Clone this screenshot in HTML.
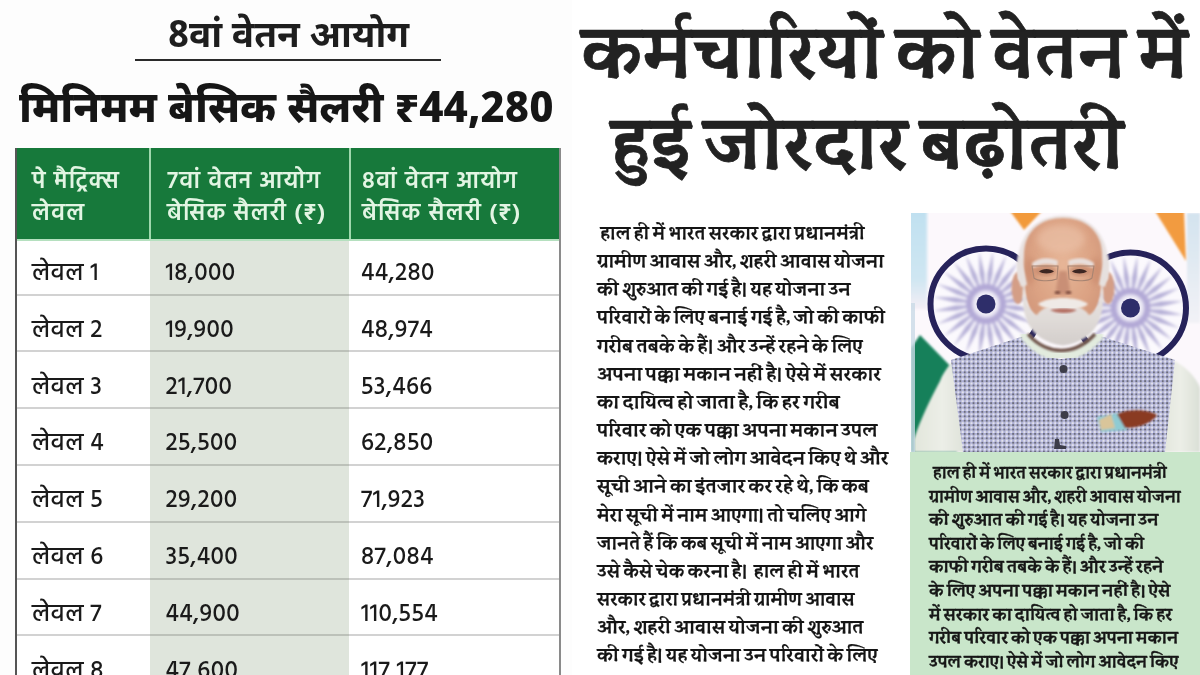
<!DOCTYPE html>
<html lang="hi">
<head>
<meta charset="utf-8">
<title>8वां वेतन आयोग</title>
<style>
*{margin:0;padding:0;box-sizing:border-box}
html,body{width:1200px;height:675px;overflow:hidden;background:#fff}
body{position:relative;font-family:"Noto Sans Devanagari","Liberation Sans","Noto Sans CJK SC",sans-serif;color:#1c1c1c}
.abs{position:absolute;white-space:nowrap;line-height:1}
#left{position:absolute;left:0;top:0;width:572px;height:675px;background:#fdfdfd}
#t1{left:168px;top:19.5px;font-family:"Noto Sans Devanagari","Liberation Sans",sans-serif;font-weight:700;font-size:37px;color:#1e1e1e}
#rule{left:135px;top:58.5px;width:306px;height:2px;background:#2a2a2a}
#t2{left:19px;top:90.5px;font-family:"Noto Sans Devanagari","Liberation Sans",sans-serif;font-weight:800;font-size:42.5px;color:#161616}
#tbl{position:absolute;left:15px;top:148px;width:546px;height:540px;border-left:2px solid #555;border-right:2px solid #8a8a8a;background:#fff}
#hdr{position:absolute;left:0;top:0;width:100%;height:91px;background:#17793b}
.vsep{position:absolute;top:0;width:2px;height:91px;background:#9fd8ad}
.mid{position:absolute;left:133px;top:91px;width:199px;height:460px;background:#dfe5dc}
.hline{position:absolute;left:0;width:100%;height:2px;background:#d2d2d2}
.ht{position:absolute;white-space:nowrap;font-family:"Hind","Noto Sans Devanagari","Liberation Sans",sans-serif;font-weight:600;font-size:23.7px;letter-spacing:1.25px;line-height:1;color:#e2f5e3}
.cell{position:absolute;white-space:nowrap;font-family:"Hind","Noto Sans Devanagari","Liberation Sans",sans-serif;font-weight:500;font-size:24.5px;letter-spacing:0.4px;line-height:1;color:#1a1a1a}
.h1{font-family:"Sura","Hind","Liberation Sans",sans-serif;font-weight:700;font-size:71px;color:#222;-webkit-text-stroke:0.7px #222}
.bl{position:absolute;transform-origin:0 0;left:597px;white-space:pre;font-family:"Sura","Hind","Liberation Sans",sans-serif;font-weight:700;font-size:18.6px;line-height:1;color:#141414;-webkit-text-stroke:0.2px #141414}
#photo{position:absolute;left:911px;top:213px;width:289px;height:239px;overflow:hidden}
#gbox{position:absolute;left:910px;top:452px;width:290px;height:223px;background:#c9e6ca}
.gl{position:absolute;transform-origin:0 0;white-space:pre;font-family:"Sura","Hind","Liberation Sans",sans-serif;font-weight:700;font-size:16.2px;line-height:1;color:#161616;-webkit-text-stroke:0.35px #161616}

</style>
</head>
<body>
<div id="left">
<div id="t1" class="abs">8वां वेतन आयोग</div>
<div id="rule" class="abs"></div>
<div id="t2" class="abs">मिनिमम बेसिक सैलरी ₹44,280</div>
<div id="tbl">
<div id="hdr">
<div class="vsep" style="left:132px"></div>
<div class="vsep" style="left:332px"></div>
<div class="ht" style="left:15px;top:23.2px">पे मैट्रिक्स</div>
<div class="ht" style="left:15px;top:55.3px">लेवल</div>
<div class="ht" style="left:150px;top:23.2px">7वां वेतन आयोग</div>
<div class="ht" style="left:150px;top:55.3px">बेसिक सैलरी (₹)</div>
<div class="ht" style="left:345px;top:23.2px">8वां वेतन आयोग</div>
<div class="ht" style="left:345px;top:55.3px">बेसिक सैलरी (₹)</div>
</div>
<div class="mid"></div>
<div class="hline" style="top:91px;height:2px;background:#b5e0bf"></div>
<div class="hline" style="top:145.6px"></div>
<div class="hline" style="top:145.6px;left:133px;width:199px;background:#bcc1b9"></div>
<div class="hline" style="top:202.4px"></div>
<div class="hline" style="top:202.4px;left:133px;width:199px;background:#bcc1b9"></div>
<div class="hline" style="top:259.2px"></div>
<div class="hline" style="top:259.2px;left:133px;width:199px;background:#bcc1b9"></div>
<div class="hline" style="top:316.0px"></div>
<div class="hline" style="top:316.0px;left:133px;width:199px;background:#bcc1b9"></div>
<div class="hline" style="top:372.8px"></div>
<div class="hline" style="top:372.8px;left:133px;width:199px;background:#bcc1b9"></div>
<div class="hline" style="top:429.6px"></div>
<div class="hline" style="top:429.6px;left:133px;width:199px;background:#bcc1b9"></div>
<div class="hline" style="top:486.4px"></div>
<div class="hline" style="top:486.4px;left:133px;width:199px;background:#bcc1b9"></div>
<div class="cell" style="left:15px;top:114.0px">लेवल 1</div>
<div class="cell" style="left:148.5px;top:114.0px">18,000</div>
<div class="cell" style="left:344px;top:114.0px">44,280</div>
<div class="cell" style="left:15px;top:170.8px">लेवल 2</div>
<div class="cell" style="left:148.5px;top:170.8px">19,900</div>
<div class="cell" style="left:344px;top:170.8px">48,974</div>
<div class="cell" style="left:15px;top:227.6px">लेवल 3</div>
<div class="cell" style="left:148.5px;top:227.6px">21,700</div>
<div class="cell" style="left:344px;top:227.6px">53,466</div>
<div class="cell" style="left:15px;top:284.4px">लेवल 4</div>
<div class="cell" style="left:148.5px;top:284.4px">25,500</div>
<div class="cell" style="left:344px;top:284.4px">62,850</div>
<div class="cell" style="left:15px;top:341.2px">लेवल 5</div>
<div class="cell" style="left:148.5px;top:341.2px">29,200</div>
<div class="cell" style="left:344px;top:341.2px">71,923</div>
<div class="cell" style="left:15px;top:398.0px">लेवल 6</div>
<div class="cell" style="left:148.5px;top:398.0px">35,400</div>
<div class="cell" style="left:344px;top:398.0px">87,084</div>
<div class="cell" style="left:15px;top:454.8px">लेवल 7</div>
<div class="cell" style="left:148.5px;top:454.8px">44,900</div>
<div class="cell" style="left:344px;top:454.8px">110,554</div>
<div class="cell" style="left:15px;top:511.6px">लेवल 8</div>
<div class="cell" style="left:148.5px;top:511.6px">47,600</div>
<div class="cell" style="left:344px;top:511.6px">117,177</div>
</div>
</div>
<div id="h1a" class="abs h1" style="left:581px;top:15px">कर्मचारियों को वेतन में</div>
<div id="h1b" class="abs h1" style="left:610.5px;top:105.5px;transform:scaleX(1.012);transform-origin:0 0">हुई जोरदार बढ़ोतरी</div>
<div class="bl" style="top:224.00px;transform:scaleX(0.9710)"> हाल ही में भारत सरकार द्वारा प्रधानमंत्री</div>
<div class="bl" style="top:252.15px;transform:scaleX(0.9829)">ग्रामीण आवास और, शहरी आवास योजना</div>
<div class="bl" style="top:280.30px;transform:scaleX(0.9883)">की शुरुआत की गई है। यह योजना उन</div>
<div class="bl" style="top:308.45px;transform:scaleX(0.9863)">परिवारों के लिए बनाई गई है, जो की काफी</div>
<div class="bl" style="top:336.60px;transform:scaleX(0.9948)">गरीब तबके के हैं। और उन्हें रहने के लिए</div>
<div class="bl" style="top:364.75px;transform:scaleX(1.0071)">अपना पक्का मकान नहीं है। ऐसे में सरकार</div>
<div class="bl" style="top:392.90px;transform:scaleX(1.0104)">का दायित्व हो जाता है, कि हर गरीब</div>
<div class="bl" style="top:421.05px;transform:scaleX(1.0000)">परिवार को एक पक्का अपना मकान उपल</div>
<div class="bl" style="top:449.20px;transform:scaleX(0.9966)">कराए। ऐसे में जो लोग आवेदन किए थे और</div>
<div class="bl" style="top:477.35px;transform:scaleX(0.9963)">सूची आने का इंतजार कर रहे थे, कि कब</div>
<div class="bl" style="top:505.50px;transform:scaleX(0.9736)">मेरा सूची में नाम आएगा। तो चलिए आगे</div>
<div class="bl" style="top:533.65px;transform:scaleX(0.9685)">जानते हैं कि कब सूची में नाम आएगा और</div>
<div class="bl" style="top:561.80px;transform:scaleX(0.9741)">उसे कैसे चेक करना है।  हाल ही में भारत</div>
<div class="bl" style="top:589.95px;transform:scaleX(0.9580)">सरकार द्वारा प्रधानमंत्री ग्रामीण आवास</div>
<div class="bl" style="top:618.10px;transform:scaleX(0.9918)">और, शहरी आवास योजना की शुरुआत</div>
<div class="bl" style="top:646.25px;transform:scaleX(0.9880)">की गई है। यह योजना उन परिवारों के लिए</div>
<svg id="photo" width="289" height="239" viewBox="0 0 289 239"><defs>
<filter id="b05" x="-10%" y="-10%" width="120%" height="120%"><feGaussianBlur stdDeviation="0.6"/></filter>
<filter id="b1" x="-10%" y="-10%" width="120%" height="120%"><feGaussianBlur stdDeviation="0.9"/></filter>
<filter id="b2" x="-10%" y="-10%" width="120%" height="120%"><feGaussianBlur stdDeviation="1.6"/></filter>
<filter id="b3" x="-20%" y="-20%" width="140%" height="140%"><feGaussianBlur stdDeviation="3"/></filter>
<linearGradient id="gblue" x1="0" y1="0" x2="0" y2="1"><stop offset="0" stop-color="#bfe0f0"/><stop offset="0.7" stop-color="#cfe6f2"/><stop offset="1" stop-color="#f4eef5"/></linearGradient>
<linearGradient id="gblue2" x1="0" y1="0" x2="0" y2="1"><stop offset="0" stop-color="#d3e3ef"/><stop offset="1" stop-color="#f2f2f6"/></linearGradient>
<radialGradient id="gface" cx="0.5" cy="0.4" r="0.65"><stop offset="0" stop-color="#e6b597"/><stop offset="0.6" stop-color="#dca384"/><stop offset="1" stop-color="#cf9478"/></radialGradient>
<pattern id="ging" width="4.4" height="4.4" patternUnits="userSpaceOnUse">
<rect width="4.4" height="4.4" fill="#e2e2ec"/>
<rect x="0" y="0" width="2.2" height="2.2" fill="#6c6d7c"/>
<rect x="2.2" y="0" width="2.2" height="2.2" fill="#aeb0d8"/>
<rect x="0" y="2.2" width="2.2" height="2.2" fill="#aeb0d8"/>
</pattern>
<linearGradient id="gsleeve" x1="0" y1="0" x2="1" y2="0"><stop offset="0" stop-color="#e2e6dc"/><stop offset="0.5" stop-color="#eceee7"/><stop offset="1" stop-color="#dadfd6"/></linearGradient>
</defs><rect width="289" height="239" fill="#fcf8fc"/><rect x="-4" y="-4" width="20" height="100" fill="url(#gblue)" filter="url(#b2)"/><rect x="276" y="0" width="13" height="110" fill="url(#gblue2)" filter="url(#b1)"/><g filter="url(#b1)"><polygon points="99,-2 131,-2 113,17" fill="#f29a3a"/><polygon points="244,-2 273,-2 275,48" fill="#f29b3f"/></g><circle cx="75" cy="91" r="56" fill="#fbf9fd"/><g filter="url(#b2)"><g fill="#b4aed6"><polygon points="82.9,92.0 104.9,97.4 127.5,97.9 105.6,92.6"/><polygon points="82.4,94.1 102.3,104.9 124.0,111.3 104.1,100.5"/><polygon points="81.3,95.9 97.7,111.5 117.0,123.3 100.7,107.7"/><polygon points="79.9,97.3 91.7,116.7 107.3,133.0 95.5,113.7"/><polygon points="78.1,98.4 84.5,120.1 95.3,140.0 88.9,118.3"/><polygon points="76.0,98.9 76.6,121.6 81.9,143.5 81.4,120.9"/><polygon points="74.0,98.9 68.6,120.9 68.1,143.5 73.4,121.6"/><polygon points="71.9,98.4 61.1,118.3 54.7,140.0 65.5,120.1"/><polygon points="70.1,97.3 54.5,113.7 42.7,133.0 58.3,116.7"/><polygon points="68.7,95.9 49.3,107.7 33.0,123.3 52.3,111.5"/><polygon points="67.6,94.1 45.9,100.5 26.0,111.3 47.7,104.9"/><polygon points="67.1,92.0 44.4,92.6 22.5,97.9 45.1,97.4"/><polygon points="67.1,90.0 45.1,84.6 22.5,84.1 44.4,89.4"/><polygon points="67.6,87.9 47.7,77.1 26.0,70.7 45.9,81.5"/><polygon points="68.7,86.1 52.3,70.5 33.0,58.7 49.3,74.3"/><polygon points="70.1,84.7 58.3,65.3 42.7,49.0 54.5,68.3"/><polygon points="71.9,83.6 65.5,61.9 54.7,42.0 61.1,63.7"/><polygon points="74.0,83.1 73.4,60.4 68.1,38.5 68.6,61.1"/><polygon points="76.0,83.1 81.4,61.1 81.9,38.5 76.6,60.4"/><polygon points="78.1,83.6 88.9,63.7 95.3,42.0 84.5,61.9"/><polygon points="79.9,84.7 95.5,68.3 107.3,49.0 91.7,65.3"/><polygon points="81.3,86.1 100.7,74.3 117.0,58.7 97.7,70.5"/><polygon points="82.4,87.9 104.1,81.5 124.0,70.7 102.3,77.1"/><polygon points="82.9,90.0 105.6,89.4 127.5,84.1 104.9,84.6"/></g><circle cx="75" cy="91" r="17" fill="none" stroke="#b2a9d6" stroke-width="6"/></g><circle cx="75" cy="91" r="55.5" fill="none" stroke="#25225a" stroke-width="6" filter="url(#b05)"/><circle cx="75" cy="91" r="9.5" fill="#2f2d6a" filter="url(#b05)"/><circle cx="219.5" cy="95" r="56" fill="#fbf9fd"/><g filter="url(#b2)"><g fill="#b4aed6"><polygon points="227.4,96.0 249.4,101.4 272.0,101.9 250.1,96.6"/><polygon points="226.9,98.1 246.8,108.9 268.5,115.3 248.6,104.5"/><polygon points="225.8,99.9 242.2,115.5 261.5,127.3 245.2,111.7"/><polygon points="224.4,101.3 236.2,120.7 251.8,137.0 240.0,117.7"/><polygon points="222.6,102.4 229.0,124.1 239.8,144.0 233.4,122.3"/><polygon points="220.5,102.9 221.1,125.6 226.4,147.5 225.9,124.9"/><polygon points="218.5,102.9 213.1,124.9 212.6,147.5 217.9,125.6"/><polygon points="216.4,102.4 205.6,122.3 199.2,144.0 210.0,124.1"/><polygon points="214.6,101.3 199.0,117.7 187.2,137.0 202.8,120.7"/><polygon points="213.2,99.9 193.8,111.7 177.5,127.3 196.8,115.5"/><polygon points="212.1,98.1 190.4,104.5 170.5,115.3 192.2,108.9"/><polygon points="211.6,96.0 188.9,96.6 167.0,101.9 189.6,101.4"/><polygon points="211.6,94.0 189.6,88.6 167.0,88.1 188.9,93.4"/><polygon points="212.1,91.9 192.2,81.1 170.5,74.7 190.4,85.5"/><polygon points="213.2,90.1 196.8,74.5 177.5,62.7 193.8,78.3"/><polygon points="214.6,88.7 202.8,69.3 187.2,53.0 199.0,72.3"/><polygon points="216.4,87.6 210.0,65.9 199.2,46.0 205.6,67.7"/><polygon points="218.5,87.1 217.9,64.4 212.6,42.5 213.1,65.1"/><polygon points="220.5,87.1 225.9,65.1 226.4,42.5 221.1,64.4"/><polygon points="222.6,87.6 233.4,67.7 239.8,46.0 229.0,65.9"/><polygon points="224.4,88.7 240.0,72.3 251.8,53.0 236.2,69.3"/><polygon points="225.8,90.1 245.2,78.3 261.5,62.7 242.2,74.5"/><polygon points="226.9,91.9 248.6,85.5 268.5,74.7 246.8,81.1"/><polygon points="227.4,94.0 250.1,93.4 272.0,88.1 249.4,88.6"/></g><circle cx="219.5" cy="95" r="17" fill="none" stroke="#b2a9d6" stroke-width="6"/></g><circle cx="219.5" cy="95" r="55.5" fill="none" stroke="#25225a" stroke-width="6" filter="url(#b05)"/><circle cx="219.5" cy="95" r="9.5" fill="#2f2d6a" filter="url(#b05)"/><polygon points="9,122 46,160 46,239 0,239 0,135" fill="#12805a" filter="url(#b1)"/><path d="M41,149 C35,156 31,162 29,168 C20,185 10,205 3,226 L3,239 L60,239 Z" fill="url(#gsleeve)" filter="url(#b1)"/><rect x="0" y="90" width="4" height="149" fill="#c9d9e6" opacity="0.8"/><path d="M258,146 C272,150 286,165 289,175 L289,239 L250,239 Z" fill="url(#gsleeve)" filter="url(#b1)"/><path d="M40,147 L113,123 C123,137 138,146 150,146 C162,146 178,137 189,123 L264,147 L254,239 L52,239 Z" fill="url(#ging)" filter="url(#b05)"/><path d="M114,123 C124,137 138,143 150,143 C162,143 176,137 188,123" fill="none" stroke="#e2ebde" stroke-width="9" stroke-linecap="round" filter="url(#b1)"/><path d="M117,121 C127,133 140,137.5 150,137.5 C160,137.5 173,133 184,121" fill="none" stroke="#6e5249" stroke-width="3.5" filter="url(#b1)"/><g filter="url(#b1)"><ellipse cx="107" cy="75" rx="6.5" ry="16" fill="#d49e86"/><ellipse cx="197" cy="75" rx="6.5" ry="16" fill="#d49e86"/></g><path d="M107,66 C103,30 118,3 152,2.5 C186,3 201,30 197,66 L188,76 L116,76 Z" fill="#e9e3e2" filter="url(#b1)"/><path d="M113,40 C114,16 132,5 152,5 C172,5 190,16 191,40 L191,68 C191,98 176,118 152,120 C128,118 113,98 113,68 Z" fill="url(#gface)" filter="url(#b1)"/><g filter="url(#b3)" fill="#c48468" opacity="0.55"><ellipse cx="119" cy="58" rx="6" ry="14"/><ellipse cx="185" cy="58" rx="6" ry="14"/></g><g fill="#e6e0de" filter="url(#b1)"><path d="M108,40 C110,50 114,58 116,72 L110,74 C106,62 105,50 108,40 Z"/><path d="M196,40 C194,50 190,58 188,72 L194,74 C198,62 199,50 196,40 Z"/></g><ellipse cx="150" cy="26" rx="24" ry="14" fill="#ecc3aa" opacity="0.6" filter="url(#b3)"/><g filter="url(#b2)" fill="#b87a62" opacity="0.55"><ellipse cx="135" cy="58" rx="10" ry="5"/><ellipse cx="169" cy="58" rx="10" ry="5"/></g><g filter="url(#b1)" fill="#e8dedb"><path d="M121,50 C128,44 140,44 147,48 L146,53 C139,50 130,50 122,55 Z"/><path d="M157,48 C164,44 176,44 183,50 L182,55 C174,50 165,50 158,53 Z"/></g><g filter="url(#b05)"><path d="M128,58.5 C131,55 140,55 143,58.5 C140,61 131,61 128,58.5 Z" fill="#3e2823"/><path d="M161,58.5 C164,55 173,55 176,58.5 C173,61 164,61 161,58.5 Z" fill="#3e2823"/><path d="M121,53 L147,53 L146,66 C138,69 126,68 123,65 Z M157,53 L183,53 L181,65 C178,68 166,69 158,66 Z" fill="none" stroke="#a78472" stroke-width="1.1"/></g><path d="M148,58 L145,77 C147,83 157,83 159,77 L156,58 Z" fill="#c98f76" filter="url(#b2)"/><g fill="#7a4a3e" filter="url(#b1)"><ellipse cx="146.5" cy="79.5" rx="3" ry="1.6"/><ellipse cx="157.5" cy="79.5" rx="3" ry="1.6"/></g><defs><linearGradient id="gbeard" x1="0" y1="0" x2="0" y2="1"><stop offset="0" stop-color="#ebe6e3"/><stop offset="0.6" stop-color="#e0dbd8"/><stop offset="1" stop-color="#d3cecb"/></linearGradient></defs><path d="M113,66 C114,88 118,98 126,102 C134,88 170,88 178,102 C186,98 190,88 191,66 C196,100 188,128 152,132.5 C116,128 108,100 113,66 Z" fill="url(#gbeard)" filter="url(#b1)"/><path d="M127,91 C137,83 167,83 177,91 C172,96 160,97 152,95 C144,97 132,96 127,91 Z" fill="#efeae6" filter="url(#b1)"/><path d="M139,97 C146,95 158,95 166,97 C160,101 146,101 139,97 Z" fill="#b46e62" filter="url(#b1)"/><g fill="#3c3c4a" filter="url(#b05)"><circle cx="152.5" cy="156" r="4"/><circle cx="153.6" cy="202" r="4"/><path d="M144,226 l4,0 l1,6 l6,1 l0,3 l-12,0 Z"/></g><g filter="url(#b1)"><path d="M186,204 L212,199 L216,217 L190,219 Z" fill="#8fcbd3"/><path d="M206,201 C220,195 238,197 246,202 C240,211 226,215 214,215 Z" fill="#8a3a22"/><path d="M188,207 L200,201 L204,215 L190,217 Z" fill="#d9c59a"/></g></svg>
<div id="gbox"></div>
<div class="gl" style="left:933px;top:464.00px;transform:scaleX(0.9861)">हाल ही में भारत सरकार द्वारा प्रधानमंत्री</div>
<div class="gl" style="left:929px;top:487.60px;transform:scaleX(0.9906)">ग्रामीण आवास और, शहरी आवास योजना</div>
<div class="gl" style="left:929px;top:511.20px;transform:scaleX(1.0260)">की शुरुआत की गई है। यह योजना उन</div>
<div class="gl" style="left:929px;top:534.80px;transform:scaleX(1.0079)">परिवारों के लिए बनाई गई है, जो की</div>
<div class="gl" style="left:929px;top:558.40px;transform:scaleX(1.0376)">काफी गरीब तबके के हैं। और उन्हें रहने</div>
<div class="gl" style="left:929px;top:582.00px;transform:scaleX(1.0433)">के लिए अपना पक्का मकान नहीं है। ऐसे</div>
<div class="gl" style="left:929px;top:605.60px;transform:scaleX(1.0297)">में सरकार का दायित्व हो जाता है, कि हर</div>
<div class="gl" style="left:929px;top:629.20px;transform:scaleX(1.0205)">गरीब परिवार को एक पक्का अपना मकान</div>
<div class="gl" style="left:929px;top:652.80px;transform:scaleX(1.0081)">उपल कराए। ऐसे में जो लोग आवेदन किए</div>
</body>
</html>
